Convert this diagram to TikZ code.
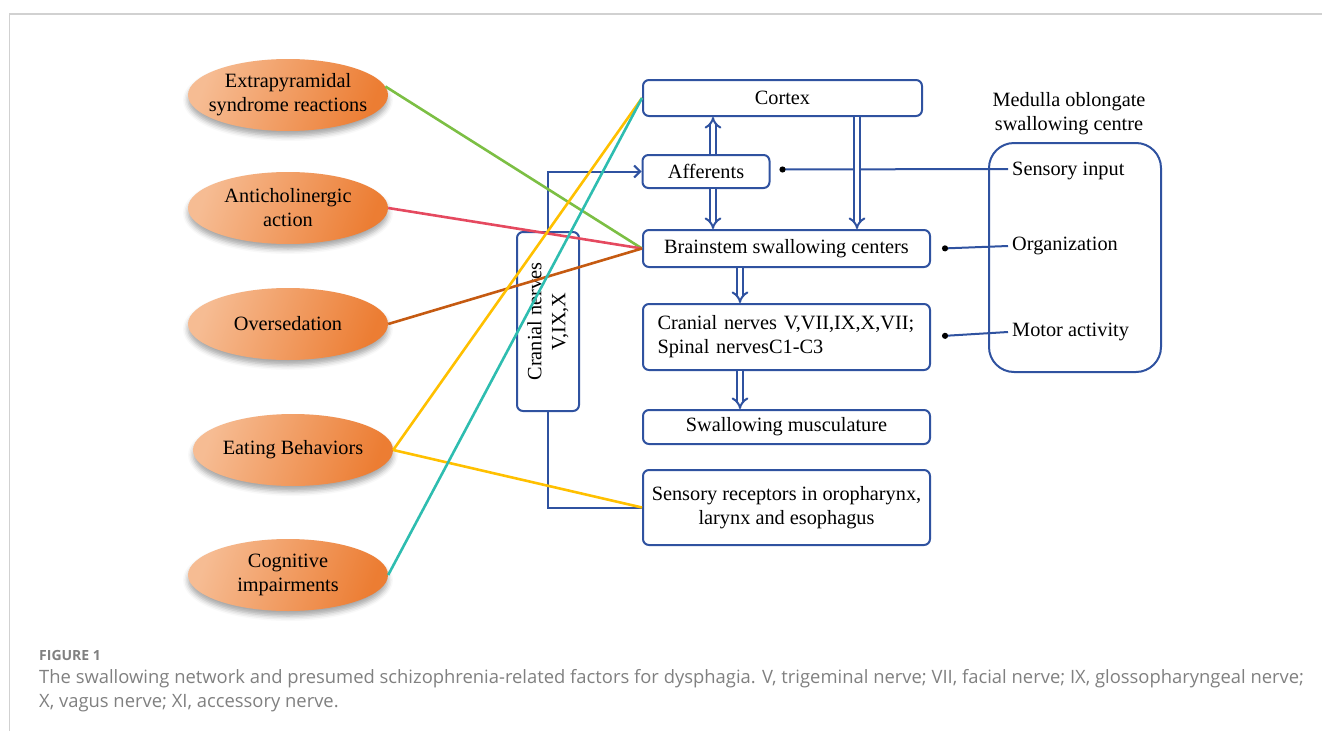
\documentclass[tikz,border=0pt]{standalone}
\usepackage{fontspec}
\setmainfont{Liberation Serif}
\newfontfamily\capfont{Open Sans}
\usetikzlibrary{shapes.geometric,shadows.blur,arrows.meta,calc}
\definecolor{bl}{HTML}{2F52A0}
\definecolor{orA}{HTML}{F6BC93}
\definecolor{orB}{HTML}{EC7D33}
\definecolor{cgreen}{HTML}{7CBF44}
\definecolor{cred}{HTML}{E5495F}
\definecolor{cbrown}{HTML}{C55A11}
\definecolor{cyell}{HTML}{FFC000}
\definecolor{cteal}{HTML}{2EBDB0}
\definecolor{capgray}{HTML}{808080}
\tikzset{
  fs/.style={font=\fontsize{20.3}{24}\selectfont},
  ell/.style={ellipse, minimum width=200, minimum height=72, inner sep=0pt,
     left color=orA, right color=orB, shading angle=70,
     blur shadow={shadow xshift=0pt, shadow yshift=-5pt, shadow opacity=35, shadow blur radius=5pt}},
  etext/.style={fs, align=center, inner sep=0pt},
  bbox/.style={draw=bl, line width=2, rounded corners=6, fs, align=center, inner sep=0pt},
  bline/.style={draw=bl, line width=2},
  dbl/.style={draw=bl, line width=2, double=white, double distance=3.6, -{Implies[scale=1.3]}},
  dotl/.style={draw=bl, line width=2, {Circle[black, length=6pt]}-},
  cl/.style={line width=2.6},
  lab/.style={fs, anchor=west, inner sep=4}
}
\begin{document}
\begin{tikzpicture}[x=1pt,y=-1pt]
\useasboundingbox (0,0) rectangle (1322,731);
\draw[black!18, line width=1.6] (1322,14) -- (9.5,14) -- (9.5,731);

% ellipses
\node[ell] (ext) at (288,95) {};
\node[etext] (extt) at (ext) {Extrapyramidal\\syndrome reactions};
\node[ell] (anti) at (288,208) {};
\node[etext] (antit) at (anti) {Anticholinergic\\action};
\node[ell] (over) at (288,324) {};
\node[etext] (overt) at (over) {Oversedation};
\node[ell] (eat) at (293,450) {};
\node[etext] (eatt) at (eat) {Eating Behaviors};
\node[ell] (cog) at (288,575) {};
\node[etext] (cogt) at (cog) {Cognitive\\impairments};

% boxes
\node[bbox, minimum width=279, minimum height=36] (cortex) at (782.5,98) {Cortex};
\node[bbox, minimum width=127, minimum height=33] (aff) at (706,171.5) {Afferents};
\node[bbox, minimum width=287, minimum height=37] (brain) at (786.5,248.5) {Brainstem swallowing centers};
\node[bbox, minimum width=287, minimum height=66, align=left, text width=258] (cn) at (786.5,337) {Cranial nerves V,VII,IX,X,VII;\\Spinal nervesC1-C3};
\node[bbox, minimum width=287, minimum height=34] (musc) at (786.5,427) {Swallowing musculature};
\node[bbox, minimum width=287, minimum height=75] (sens) at (786.5,507.5) {Sensory receptors in oropharynx,\\larynx and esophagus};
\node[bbox, rotate=90, minimum width=179, minimum height=62] (cnv) at (548,321.5) {Cranial nerves\\V,IX,X};

% medulla
\node[draw=bl, line width=2, rounded corners=25, minimum width=172, minimum height=229] (med) at (1075,257.5) {};
\node[fs, align=center] (medt) at (1069,114) {Medulla oblongate\\swallowing centre};
\node[lab] (si) at (1008,171) {Sensory input};
\node[lab] (org) at (1008,246) {Organization};
\node[lab] (mot) at (1008,332) {Motor activity};

% dot connectors
\draw[dotl] ($(aff.east)+(9,-2)$) -- (si.west |- 0,169);
\draw[dotl] ($(brain.east)+(11,0)$) -- (org.west);
\draw[dotl] ($(cn.east)+(11,-1)$) -- (mot.west);

% double arrows
\draw[dbl] ($(aff.north)+(7,0)$) -- ($(cortex.south -| aff.north)+(7,0)$);
\draw[dbl] ($(aff.south)+(7,0)$) -- ($(brain.north -| aff.south)+(7,0)$);
\draw[dbl] ($(cortex.south)+(74.5,0)$) -- ($(brain.north)+(70.5,0)$);
\draw[dbl] ($(brain.south)+(-46.5,0)$) -- ($(cn.north)+(-46.5,0)$);
\draw[dbl] ($(cn.south)+(-46.5,0)$) -- ($(musc.north)+(-46.5,0)$);

% cranial nerves vertical connectors
\draw[bline, -{Straight Barb[length=6pt, width=12pt, line width=2pt]}] (cnv.east) |- (aff.west);
\draw[bline] (cnv.west) |- (sens.west);

% colored lines
\draw[cgreen, cl] (ext.5) -- (brain.west);
\draw[cred, cl] (anti.east) -- (brain.west);
\draw[cbrown, cl] (over.east) -- (brain.west);
\draw[cyell, cl] (eat.east) -- (cortex.west);
\draw[cyell, cl] (eat.east) -- (sens.west);
\draw[cteal, cl] (cog.east) -- (cortex.west);

% caption
\node[anchor=base west, inner sep=0, text=capgray, font=\capfont\bfseries\fontsize{14}{16}\selectfont] (fig) at (39,660) {FIGURE 1};
\node[anchor=base west, inner sep=0, text=capgray, font=\capfont\fontsize{18.4}{24}\selectfont] (cap1) at (39,683) {The swallowing network and presumed schizophrenia-related factors for dysphagia. V, trigeminal nerve; VII, facial nerve; IX, glossopharyngeal nerve;};
\node[anchor=base west, inner sep=0, text=capgray, font=\capfont\fontsize{18.4}{24}\selectfont] (cap2) at (39,707) {X, vagus nerve; XI, accessory nerve.};
\end{tikzpicture}
\end{document}
